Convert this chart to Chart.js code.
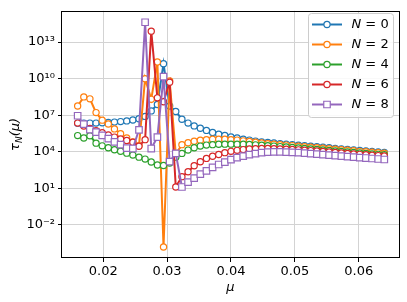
<!DOCTYPE html>
<html>
<head>
<meta charset="utf-8">
<script src="https://cdn.jsdelivr.net/npm/chart.js@4.4.1/dist/chart.umd.min.js"></script>
<style>
  html, body { margin: 0; padding: 0; background: #fff; }
</style>
</head>
<body>
<canvas id="tauChart" width="407" height="302"></canvas>
<script>
// mu grid (x values)
const mu = [0.016, 0.01696, 0.01792, 0.01888, 0.01984, 0.0208, 0.02176, 0.02272, 0.02368, 0.02464,
            0.0256, 0.02656, 0.02752, 0.02848, 0.02944, 0.0304, 0.03136, 0.03232, 0.03328, 0.03424,
            0.0352, 0.03616, 0.03712, 0.03808, 0.03904, 0.04, 0.04096, 0.04192, 0.04288, 0.04384,
            0.0448, 0.04576, 0.04672, 0.04768, 0.04864, 0.0496, 0.05056, 0.05152, 0.05248, 0.05344,
            0.0544, 0.05536, 0.05632, 0.05728, 0.05824, 0.0592, 0.06016, 0.06112, 0.06208, 0.06304, 0.064];

// log10 of tau_N(mu)
const logTauN0 = [6.33, 6.35, 6.35, 6.35, 6.38, 6.4, 6.43, 6.47, 6.53, 6.6,
                  6.7, 6.9, 7.35, 7.88, 11.23, 7.75, 7.3, 6.67, 6.35, 6.12,
                  5.93, 5.75, 5.57, 5.43, 5.33, 5.21, 5.12, 5.03, 4.95, 4.87,
                  4.8, 4.75, 4.71, 4.66, 4.62, 4.58, 4.53, 4.49, 4.45, 4.4,
                  4.36, 4.32, 4.27, 4.23, 4.19, 4.14, 4.1, 4.06, 4.01, 3.97, 3.93];
const logTauN2 = [7.75, 8.5, 8.34, 7.21, 6.59, 6.27, 5.87, 5.47, 5.12, 4.8,
                  4.5, 10.0, 8.3, 11.37, -3.83, 9.8, 3.8, 4.58, 4.74, 4.86,
                  4.94, 4.99, 5.02, 5.02, 5.02, 4.99, 4.95, 4.89, 4.84, 4.78,
                  4.72, 4.66, 4.62, 4.58, 4.54, 4.5, 4.45, 4.41, 4.37, 4.33,
                  4.29, 4.24, 4.2, 4.16, 4.12, 4.08, 4.03, 3.99, 3.95, 3.91, 3.87];
const logTauN4 = [5.32, 5.12, 5.31, 4.7, 4.48, 4.32, 4.16, 4.04, 3.88, 3.72,
                  3.55, 3.39, 3.15, 2.91, 2.87, 3.07, 3.55, 3.86, 4.13, 4.32,
                  4.46, 4.54, 4.58, 4.61, 4.62, 4.62, 4.62, 4.61, 4.59, 4.56,
                  4.53, 4.49, 4.46, 4.42, 4.38, 4.34, 4.3, 4.26, 4.22, 4.18,
                  4.14, 4.1, 4.06, 4.02, 3.98, 3.94, 3.9, 3.86, 3.82, 3.78, 3.75];
const logTauN6 = [6.35, 6.1, 5.9, 5.72, 5.55, 5.38, 5.2, 5.05, 4.92, 4.78,
                  4.45, 4.99, 13.9, 8.42, 8.1, 9.7, 1.1, 1.95, 2.35, 2.85,
                  3.18, 3.45, 3.63, 3.77, 3.92, 4.03, 4.11, 4.17, 4.22, 4.25,
                  4.26, 4.26, 4.25, 4.23, 4.21, 4.18, 4.15, 4.12, 4.09, 4.06,
                  4.02, 3.98, 3.94, 3.9, 3.86, 3.82, 3.78, 3.75, 3.71, 3.68, 3.65];
const logTauN8 = [6.95, 6.27, 5.82, 5.6, 5.34, 5.07, 4.8, 4.58, 4.3, 4.26,
                  5.79, 14.63, 4.26, 5.2, 10.16, 3.19, 3.86, 1.1, 1.5, 1.83,
                  2.15, 2.43, 2.71, 2.95, 3.15, 3.35, 3.51, 3.63, 3.76, 3.84,
                  3.92, 3.97, 3.98, 3.98, 3.97, 3.95, 3.92, 3.88, 3.84, 3.8,
                  3.76, 3.72, 3.68, 3.64, 3.6, 3.56, 3.52, 3.48, 3.44, 3.4, 3.36];

const seriesN = [0, 2, 4, 6, 8];
const seriesLogs = [logTauN0, logTauN2, logTauN4, logTauN6, logTauN8];
const colors = ['#1f77b4', '#ff7f0e', '#2ca02c', '#d62728', '#9467bd'];
const markers = ['circle', 'circle', 'circle', 'circle', 'rect'];

const xTicks = [0.02, 0.03, 0.04, 0.05, 0.06];
const yTickExponents = [-2, 1, 4, 7, 10, 13];

const FONT = 'DejaVu Sans';
const SUP = {'-': '\u207b', '0': '\u2070', '1': '\u00b9', '2': '\u00b2', '3': '\u00b3',
             '4': '\u2074', '5': '\u2075', '6': '\u2076', '7': '\u2077', '8': '\u2078', '9': '\u2079'};
function powLabel(e) {
    return '10' + String(e).split('').map(c => SUP[c]).join('');
}

const datasets = seriesN.map(function (n, k) {
    return {
        label: 'N = ' + n,
        data: mu.map((m, i) => ({x: m, y: Math.pow(10, seriesLogs[k][i])})),
        borderColor: colors[k],
        borderWidth: 2,
        backgroundColor: '#fff',
        pointStyle: markers[k],
        pointRadius: markers[k] === 'rect' ? 4.6 : 3.1,
        pointBorderWidth: 1.2,
        pointBackgroundColor: '#fff',
        pointBorderColor: colors[k],
        tension: 0,
        order: seriesN.length - k
    };
});

// frame around the axes, like matplotlib spines
const framePlugin = {
    id: 'frame',
    afterDatasetsDraw(chart) {
        const a = chart.chartArea;
        const ctx = chart.ctx;
        ctx.save();
        ctx.strokeStyle = '#000';
        ctx.lineWidth = 1;
        ctx.strokeRect(Math.round(a.left) - 0.5, Math.round(a.top) + 0.5,
                       Math.round(a.right - a.left) + 1, Math.round(a.bottom - a.top) - 1);
        ctx.restore();
    }
};

// y axis title tau_N(mu) with subscript
const yTitlePlugin = {
    id: 'yTitle',
    afterDraw(chart) {
        const ctx = chart.ctx;
        const a = chart.chartArea;
        ctx.save();
        ctx.translate(19, (a.top + a.bottom) / 2);
        ctx.rotate(-Math.PI / 2);
        ctx.fillStyle = '#000';
        ctx.textBaseline = 'alphabetic';
        const big = 'italic 13px "' + FONT + '"';
        const small = 'italic 9px "' + FONT + '"';
        ctx.font = big;
        const w1 = ctx.measureText('\u03c4').width;
        const w3 = ctx.measureText('(\u03bc)').width;
        ctx.font = small;
        const w2 = ctx.measureText('N').width;
        let x = -(w1 + w2 + w3) / 2;
        ctx.font = big;
        ctx.fillText('\u03c4', x, 0);
        x += w1;
        ctx.font = small;
        ctx.fillText('N', x, 3);
        x += w2;
        ctx.font = big;
        ctx.fillText('(\u03bc)', x, 0);
        ctx.restore();
    }
};

// legend drawn inside the plot, upper right
const legendPlugin = {
    id: 'insideLegend',
    afterDraw(chart) {
        const ctx = chart.ctx;
        const bx = 308.5, by = 13.5, bw = 85, bh = 104;
        ctx.save();
        ctx.fillStyle = 'rgba(255,255,255,0.85)';
        ctx.strokeStyle = '#cccccc';
        ctx.lineWidth = 1;
        ctx.beginPath();
        ctx.roundRect(bx, by, bw, bh, 3);
        ctx.fill();
        ctx.stroke();
        chart.data.datasets.forEach(function (ds, k) {
            const y = 24.5 + k * 20;
            ctx.strokeStyle = ds.borderColor;
            ctx.lineWidth = 2;
            ctx.beginPath();
            ctx.moveTo(312, y);
            ctx.lineTo(342, y);
            ctx.stroke();
            ctx.fillStyle = '#fff';
            ctx.lineWidth = ds.pointBorderWidth;
            ctx.beginPath();
            if (ds.pointStyle === 'rect') {
                const s = ds.pointRadius * Math.SQRT1_2;
                ctx.rect(327 - s, y - s, 2 * s, 2 * s);
            } else {
                ctx.arc(327, y, ds.pointRadius, 0, Math.PI * 2);
            }
            ctx.fill();
            ctx.stroke();
            ctx.fillStyle = '#000';
            ctx.textBaseline = 'middle';
            ctx.font = 'italic 13px "' + FONT + '"';
            ctx.fillText('N', 351.5, y);
            const wn = ctx.measureText('N').width;
            ctx.font = '13px "' + FONT + '"';
            ctx.fillText(' = ' + seriesN[k], 351.5 + wn, y);
        });
        ctx.restore();
    }
};

const ctx = document.getElementById('tauChart').getContext('2d');
const tauChart = new Chart(ctx, {
    type: 'line',
    data: { datasets: datasets },
    options: {
        responsive: false,
        animation: false,
        devicePixelRatio: 1,
        layout: { padding: { top: 6, right: 8, left: 0, bottom: 0 } },
        plugins: {
            legend: { display: false },
            tooltip: { enabled: false }
        },
        scales: {
            x: {
                type: 'linear',
                min: 0.01355,
                max: 0.0663,
                afterBuildTicks: function (scale) {
                    scale.ticks = xTicks.map(v => ({ value: v }));
                },
                afterFit: function (scale) { scale.height = 44; },
                ticks: {
                    callback: v => v.toFixed(2),
                    font: { family: FONT, size: 13 },
                    color: '#000',
                    padding: 2,
                    maxRotation: 0,
                    autoSkip: false
                },
                grid: { color: '#d3d3d3', lineWidth: 1, tickColor: '#000', tickLength: 4 },
                border: { display: false },
                title: {
                    display: true,
                    text: '\u03bc',
                    color: '#000',
                    font: { family: FONT, size: 13, style: 'italic' },
                    padding: { top: 0, bottom: 7 }
                }
            },
            y: {
                type: 'logarithmic',
                min: Math.pow(10, -4.73),
                max: Math.pow(10, 15.57),
                afterBuildTicks: function (scale) {
                    scale.ticks = yTickExponents.map(e => ({ value: Math.pow(10, e) }));
                },
                afterFit: function (scale) { scale.width = 62; },
                ticks: {
                    callback: v => powLabel(Math.round(Math.log10(v))),
                    font: { family: FONT, size: 13 },
                    color: '#000',
                    padding: 3,
                    autoSkip: false
                },
                grid: { color: '#d3d3d3', lineWidth: 1, tickColor: '#000', tickLength: 4 },
                border: { display: false }
            }
        }
    },
    plugins: [framePlugin, yTitlePlugin, legendPlugin]
});
</script>
</body>
</html>
